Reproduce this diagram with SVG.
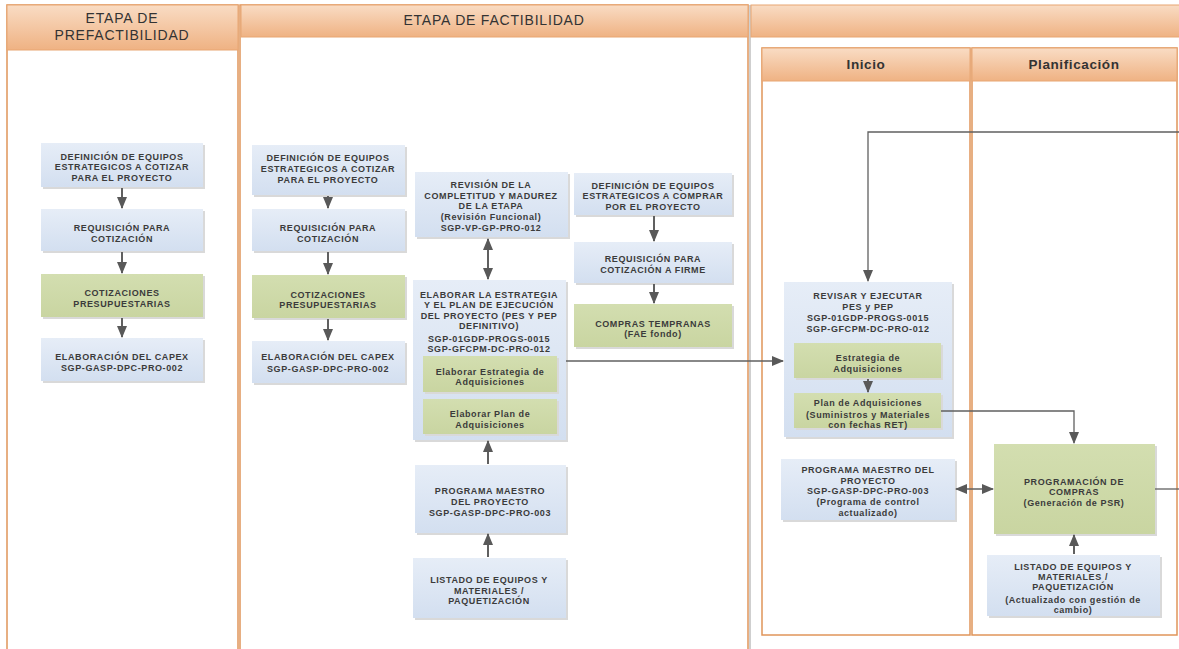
<svg xmlns="http://www.w3.org/2000/svg" width="1179" height="649" viewBox="0 0 1179 649">
<defs>
<linearGradient id="hdr" x1="0" y1="0" x2="0" y2="1"><stop offset="0" stop-color="#f9dcc4"/><stop offset="1" stop-color="#efb283"/></linearGradient>
<linearGradient id="blue" x1="0" y1="0" x2="0" y2="1"><stop offset="0" stop-color="#e6edf7"/><stop offset="1" stop-color="#d3dff0"/></linearGradient>
<linearGradient id="green" x1="0" y1="0" x2="0" y2="1"><stop offset="0" stop-color="#d3deb0"/><stop offset="1" stop-color="#c9d5a1"/></linearGradient>
<marker id="ah" markerUnits="userSpaceOnUse" markerWidth="12" markerHeight="10" refX="11" refY="5" orient="auto"><path d="M0,0 L12,5 L0,10 Z" fill="#595959"/></marker>
<marker id="ahs" markerUnits="userSpaceOnUse" markerWidth="12" markerHeight="10" refX="1" refY="5" orient="auto"><path d="M12,0 L0,5 L12,10 Z" fill="#595959"/></marker>
</defs>
<style>
.lane{fill:#fff;stroke:#e0955a;stroke-width:1.5}
.hd{fill:url(#hdr);stroke:#e8a673;stroke-width:1}
.ht{font-family:"Liberation Sans",Arial,sans-serif;font-size:14px;letter-spacing:0.8px;fill:#333;text-anchor:middle}
.ht2{font-family:"Liberation Sans",Arial,sans-serif;font-size:13.5px;letter-spacing:0.6px;font-weight:bold;fill:#333;text-anchor:middle}
.b{fill:url(#blue)}
.g{fill:url(#green)}
.sh{fill:#d9d9d9}
.t{font-family:"Liberation Sans",Arial,sans-serif;font-size:9px;letter-spacing:0.6px;font-weight:bold;fill:#3b3b3b;text-anchor:middle}
.c{fill:none;stroke:#606060;stroke-width:1.3}
.cv{fill:none;stroke:#606060;stroke-width:2}
</style>

<g id="frames">
<rect x="7" y="5" width="231" height="660" class="lane"/>
<rect x="240" y="5" width="508" height="660" class="lane"/>
<line x1="750" y1="5" x2="750" y2="649" stroke="#cfcfcf" stroke-width="2"/>
<rect x="7" y="5" width="231" height="45" class="hd"/>
<rect x="241" y="5" width="507" height="32" class="hd"/>
<rect x="751" y="5" width="430" height="32" class="hd"/>
<text x="122" y="23" class="ht">ETAPA DE</text>
<text x="122" y="40" class="ht">PREFACTIBILIDAD</text>
<text x="494" y="25" class="ht">ETAPA DE FACTIBILIDAD</text>
<rect x="762" y="48" width="208" height="587" class="lane"/>
<rect x="972" y="48" width="205" height="587" class="lane"/>
<rect x="762" y="48" width="208" height="33" class="hd"/>
<rect x="972" y="48" width="205" height="33" class="hd"/>
<text x="866" y="69" class="ht2">Inicio</text>
<text x="1074" y="69" class="ht2">Planificación</text>
</g>

<g id="pre1"><rect x="43" y="145" width="162" height="44" class="sh"/><rect x="41" y="143" width="162" height="44" class="b"/>
<text class="t"><tspan x="122" y="160">DEFINICIÓN DE EQUIPOS</tspan><tspan x="122" y="170">ESTRATEGICOS A COTIZAR</tspan><tspan x="122" y="181">PARA EL PROYECTO</tspan></text></g>
<g id="pre2"><rect x="43" y="211" width="162" height="42" class="sh"/><rect x="41" y="209" width="162" height="42" class="b"/>
<text class="t"><tspan x="122" y="231">REQUISICIÓN PARA</tspan><tspan x="122" y="242">COTIZACIÓN</tspan></text></g>
<g id="pre3"><rect x="43" y="276" width="162" height="43" class="sh"/><rect x="41" y="274" width="162" height="43" class="g"/>
<text class="t"><tspan x="122" y="296">COTIZACIONES</tspan><tspan x="122" y="307">PRESUPUESTARIAS</tspan></text></g>
<g id="pre4"><rect x="43" y="340" width="162" height="43" class="sh"/><rect x="41" y="338" width="162" height="43" class="b"/>
<text class="t"><tspan x="122" y="360">ELABORACIÓN DEL CAPEX</tspan><tspan x="122" y="371">SGP-GASP-DPC-PRO-002</tspan></text></g>

<g id="fac1"><rect x="254" y="147" width="153" height="50" class="sh"/><rect x="252" y="145" width="153" height="50" class="b"/>
<text class="t"><tspan x="328" y="161">DEFINICIÓN DE EQUIPOS</tspan><tspan x="328" y="172">ESTRATEGICOS A COTIZAR</tspan><tspan x="328" y="183">PARA EL PROYECTO</tspan></text></g>
<g id="fac2"><rect x="254" y="211" width="153" height="42" class="sh"/><rect x="252" y="209" width="153" height="42" class="b"/>
<text class="t"><tspan x="328" y="231">REQUISICIÓN PARA</tspan><tspan x="328" y="242">COTIZACIÓN</tspan></text></g>
<g id="fac3"><rect x="254" y="277" width="153" height="43" class="sh"/><rect x="252" y="275" width="153" height="43" class="g"/>
<text class="t"><tspan x="328" y="298">COTIZACIONES</tspan><tspan x="328" y="308">PRESUPUESTARIAS</tspan></text></g>
<g id="fac4"><rect x="254" y="343" width="153" height="42" class="sh"/><rect x="252" y="341" width="153" height="42" class="b"/>
<text class="t"><tspan x="328" y="360">ELABORACIÓN DEL CAPEX</tspan><tspan x="328" y="372">SGP-GASP-DPC-PRO-002</tspan></text></g>

<g id="revision"><rect x="417" y="174" width="153" height="65" class="sh"/><rect x="415" y="172" width="153" height="65" class="b"/>
<text class="t"><tspan x="491" y="188">REVISIÓN DE LA</tspan><tspan x="491" y="199">COMPLETITUD Y MADUREZ</tspan><tspan x="491" y="209">DE LA ETAPA</tspan><tspan x="491" y="220">(Revisión Funcional)</tspan><tspan x="491" y="231">SGP-VP-GP-PRO-012</tspan></text></g>

<g id="elaborar"><rect x="415" y="282" width="153" height="160" class="sh"/><rect x="413" y="280" width="153" height="160" class="b"/>
<text class="t"><tspan x="489" y="298">ELABORAR LA ESTRATEGIA</tspan><tspan x="489" y="308">Y EL PLAN DE EJECUCIÓN</tspan><tspan x="489" y="319">DEL PROYECTO (PES Y PEP</tspan><tspan x="489" y="329">DEFINITIVO)</tspan><tspan x="489" y="342">SGP-01GDP-PROGS-0015</tspan><tspan x="489" y="352">SGP-GFCPM-DC-PRO-012</tspan></text>
<rect x="425" y="358" width="134" height="36" class="sh"/><rect x="423" y="356" width="134" height="36" class="g"/>
<text class="t"><tspan x="490" y="375">Elaborar Estrategia de</tspan><tspan x="490" y="385">Adquisiciones</tspan></text>
<rect x="425" y="401" width="134" height="35" class="sh"/><rect x="423" y="399" width="134" height="35" class="g"/>
<text class="t"><tspan x="490" y="417">Elaborar Plan de</tspan><tspan x="490" y="428">Adquisiciones</tspan></text></g>

<g id="programa1"><rect x="417" y="467" width="151" height="68" class="sh"/><rect x="415" y="465" width="151" height="68" class="b"/>
<text class="t"><tspan x="490" y="494">PROGRAMA MAESTRO</tspan><tspan x="490" y="505">DEL PROYECTO</tspan><tspan x="490" y="516">SGP-GASP-DPC-PRO-003</tspan></text></g>
<g id="listado1"><rect x="415" y="560" width="153" height="60" class="sh"/><rect x="413" y="558" width="153" height="60" class="b"/>
<text class="t"><tspan x="489" y="583">LISTADO DE EQUIPOS Y</tspan><tspan x="489" y="594">MATERIALES /</tspan><tspan x="489" y="604">PAQUETIZACIÓN</tspan></text></g>

<g id="comp1"><rect x="576" y="175" width="158" height="42" class="sh"/><rect x="574" y="173" width="158" height="42" class="b"/>
<text class="t"><tspan x="653" y="189">DEFINICIÓN DE EQUIPOS</tspan><tspan x="653" y="199">ESTRATEGICOS A COMPRAR</tspan><tspan x="653" y="210">POR EL PROYECTO</tspan></text></g>
<g id="comp2"><rect x="576" y="244" width="158" height="41" class="sh"/><rect x="574" y="242" width="158" height="41" class="b"/>
<text class="t"><tspan x="653" y="262">REQUISICIÓN PARA</tspan><tspan x="653" y="273">COTIZACIÓN A FIRME</tspan></text></g>
<g id="comp3"><rect x="576" y="306" width="158" height="43" class="sh"/><rect x="574" y="304" width="158" height="43" class="g"/>
<text class="t"><tspan x="653" y="327">COMPRAS TEMPRANAS</tspan><tspan x="653" y="337">(FAE fondo)</tspan></text></g>

<g id="revisar"><rect x="786" y="284" width="168" height="155" class="sh"/><rect x="784" y="282" width="168" height="155" class="b"/>
<text class="t"><tspan x="868" y="299">REVISAR Y EJECUTAR</tspan><tspan x="868" y="310">PES y PEP</tspan><tspan x="868" y="321">SGP-01GDP-PROGS-0015</tspan><tspan x="868" y="332">SGP-GFCPM-DC-PRO-012</tspan></text>
<rect x="796" y="345" width="147" height="35" class="sh"/><rect x="794" y="343" width="147" height="35" class="g"/>
<text class="t"><tspan x="868" y="361">Estrategia de</tspan><tspan x="868" y="372">Adquisiciones</tspan></text>
<rect x="796" y="395" width="147" height="35" class="sh"/><rect x="794" y="393" width="147" height="35" class="g"/>
<text class="t"><tspan x="868" y="406">Plan de Adquisiciones</tspan><tspan x="868" y="418">(Suministros y Materiales</tspan><tspan x="868" y="428">con fechas RET)</tspan></text></g>

<g id="programa2"><rect x="783" y="461" width="174" height="61" class="sh"/><rect x="781" y="459" width="174" height="61" class="b"/>
<text class="t"><tspan x="868" y="473">PROGRAMA MAESTRO DEL</tspan><tspan x="868" y="484">PROYECTO</tspan><tspan x="868" y="494">SGP-GASP-DPC-PRO-003</tspan><tspan x="868" y="505">(Programa de control</tspan><tspan x="868" y="516">actualizado)</tspan></text></g>

<g id="programacion"><rect x="996" y="446" width="161" height="90" class="sh"/><rect x="994" y="444" width="161" height="90" class="g"/>
<text class="t"><tspan x="1074" y="485">PROGRAMACIÓN DE</tspan><tspan x="1074" y="495">COMPRAS</tspan><tspan x="1074" y="506">(Generación de PSR)</tspan></text></g>

<g id="listado2"><rect x="989" y="557" width="173" height="61" class="sh"/><rect x="987" y="555" width="173" height="61" class="b"/>
<text class="t"><tspan x="1073" y="570">LISTADO DE EQUIPOS Y</tspan><tspan x="1073" y="580">MATERIALES /</tspan><tspan x="1073" y="590">PAQUETIZACIÓN</tspan><tspan x="1073" y="603">(Actualizado con gestión de</tspan><tspan x="1073" y="613">cambio)</tspan></text></g>

<g id="connectors">
<line x1="122" y1="188" x2="122" y2="208" class="cv" marker-end="url(#ah)"/>
<line x1="122" y1="252" x2="122" y2="273" class="cv" marker-end="url(#ah)"/>
<line x1="122" y1="318" x2="122" y2="337" class="cv" marker-end="url(#ah)"/>
<line x1="328" y1="196" x2="328" y2="208" class="cv" marker-end="url(#ah)"/>
<line x1="328" y1="252" x2="328" y2="274" class="cv" marker-end="url(#ah)"/>
<line x1="328" y1="319" x2="328" y2="340" class="cv" marker-end="url(#ah)"/>
<line x1="488" y1="239" x2="488" y2="279" class="cv" marker-start="url(#ahs)" marker-end="url(#ah)"/>
<line x1="488" y1="464" x2="488" y2="441" class="cv" marker-end="url(#ah)"/>
<line x1="488" y1="557" x2="488" y2="534" class="cv" marker-end="url(#ah)"/>
<line x1="654" y1="216" x2="654" y2="241" class="cv" marker-end="url(#ah)"/>
<line x1="654" y1="284" x2="654" y2="303" class="cv" marker-end="url(#ah)"/>
<line x1="566" y1="361" x2="783" y2="361" class="c" marker-end="url(#ah)"/>
<polyline points="1179,132 868,132 868,281" class="c" marker-end="url(#ah)"/>
<line x1="868" y1="379" x2="868" y2="392" class="cv" marker-end="url(#ah)"/>
<polyline points="941,411 1074,411 1074,443" class="c" marker-end="url(#ah)"/>
<line x1="956" y1="489" x2="993" y2="489" class="c" marker-start="url(#ahs)" marker-end="url(#ah)"/>
<line x1="1074" y1="554" x2="1074" y2="535" class="cv" marker-end="url(#ah)"/>
<line x1="1155" y1="489" x2="1179" y2="489" class="c"/>
</g>
</svg>
